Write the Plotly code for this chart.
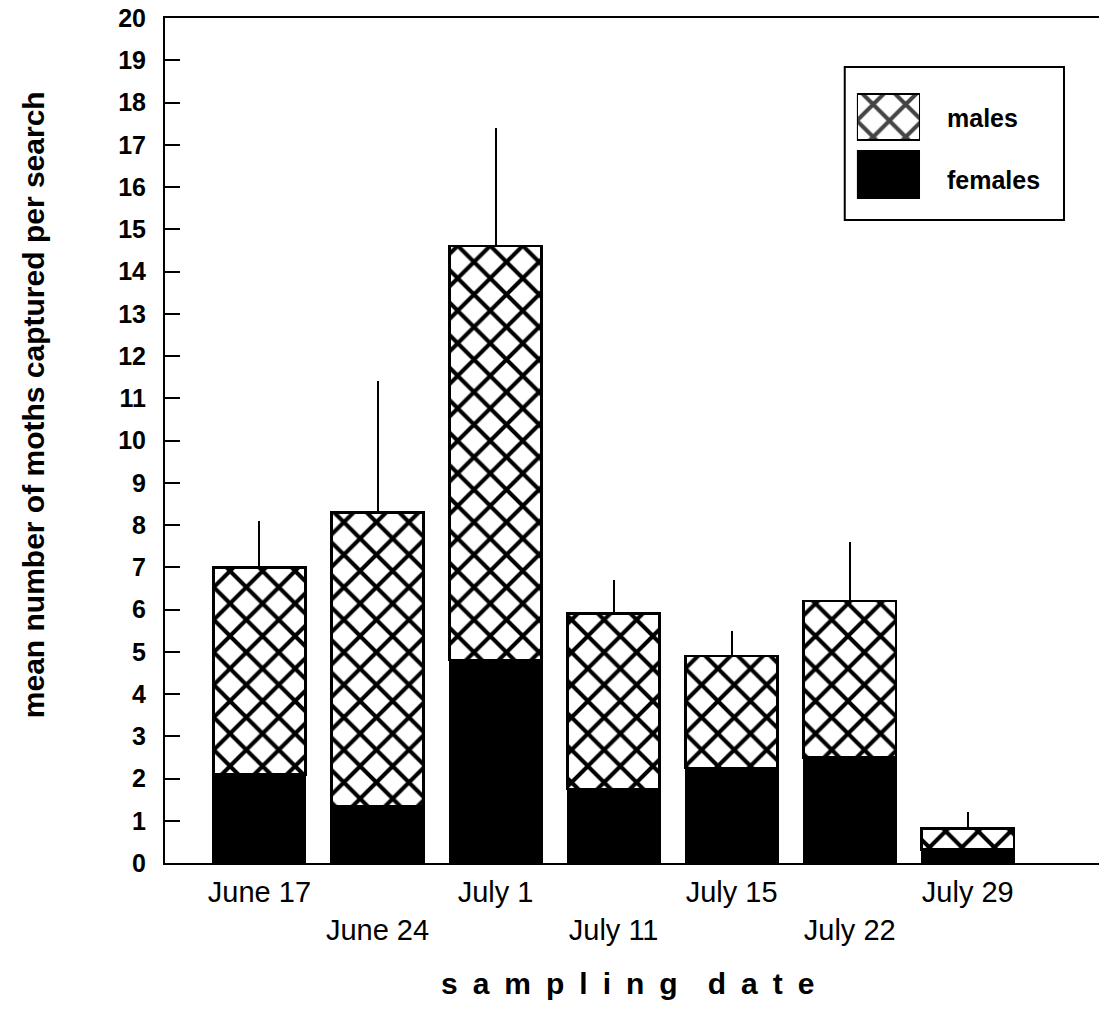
import plotly.graph_objects as go

# ---- data ----
dates = ["June 17", "June 24", "July 1", "July 11", "July 15", "July 22", "July 29"]
females = [2.1, 1.35, 4.8, 1.75, 2.25, 2.5, 0.32]
males = [4.9, 6.95, 9.8, 4.15, 2.65, 3.7, 0.5]
se_upper = [1.1, 3.1, 2.8, 0.8, 0.6, 1.4, 0.38]
y_ticks = list(range(0, 21))
legend_labels = ["females", "males"]

FONT = "Liberation Sans, Arial, Helvetica, sans-serif"
pos = list(range(len(dates)))
# alternate tick labels on two rows
tick_text = [d if i % 2 == 0 else "<br>" + d for i, d in enumerate(dates)]

hatch = dict(shape="x", fgcolor="black", bgcolor="white", fgopacity=1, size=23, solidity=0.32)

fig = go.Figure()
fig.add_trace(go.Bar(
    x=pos, y=females, name="females", width=0.78,
    marker=dict(color="black", line=dict(color="black", width=2)),
))
fig.add_trace(go.Bar(
    x=pos, y=males, name="males", width=0.78,
    marker=dict(color="white", pattern=hatch, line=dict(color="black", width=2.5)),
    error_y=dict(type="data", symmetric=False, array=se_upper,
                 arrayminus=[0] * len(se_upper), color="black",
                 thickness=2, width=0),
))

# legend swatches in an inset axis
fig.add_trace(go.Bar(
    y=legend_labels, x=[1, 1], orientation="h", width=0.8,
    xaxis="x2", yaxis="y2", showlegend=False, hoverinfo="skip",
    marker=dict(color=["black", "white"],
                pattern=dict(shape=["", "x"], fgcolor="black", bgcolor="white",
                             fgopacity=1, size=23, solidity=0.32),
                line=dict(color="black", width=2.5)),
))

fig.update_layout(
    width=1107, height=1009,
    margin=dict(l=157, r=15, t=10, b=154, autoexpand=False),
    paper_bgcolor="white", plot_bgcolor="white",
    barmode="stack", showlegend=False,
    font=dict(family=FONT, color="black"),
    xaxis=dict(
        range=[-0.8, 7.12], tickmode="array", tickvals=pos, ticktext=tick_text,
        ticks="", showgrid=False, zeroline=False, automargin=False,
        showline=True, linecolor="black", linewidth=2, mirror=True,
        tickfont=dict(size=29, family=FONT, color="black"),
        ticklabelstandoff=2, ticklabeloverflow="allow",
    ),
    yaxis=dict(
        range=[0, 20], tickmode="array", tickvals=y_ticks,
        ticks="inside", ticklen=15, tickwidth=1.5, tickcolor="black",
        showgrid=False, zeroline=False, automargin=False,
        showline=True, linecolor="black", linewidth=2, mirror=False,
        tickfont=dict(size=25, family=FONT, color="black", weight="bold"),
        ticklabelstandoff=12, ticklabeloverflow="allow",
    ),
    xaxis2=dict(domain=[0.740, 0.8075], range=[0, 1], anchor="y2", visible=False),
    yaxis2=dict(domain=[0.781, 0.917], range=[-0.5, 1.5], anchor="x2",
                type="category", visible=False),
    shapes=[dict(type="rect", xref="paper", yref="paper",
                 x0=0.727, x1=0.9615, y0=0.761, y1=0.942,
                 line=dict(color="black", width=2), fillcolor="rgba(0,0,0,0)")],
    annotations=[
        dict(text="males", xref="paper", yref="paper", x=0.834, y=0.882,
             xanchor="left", yanchor="middle", showarrow=False,
             font=dict(size=25, family=FONT, weight="bold")),
        dict(text="females", xref="paper", yref="paper", x=0.834, y=0.808,
             xanchor="left", yanchor="middle", showarrow=False,
             font=dict(size=25, family=FONT, weight="bold")),
        dict(text="mean number of moths captured per search", xref="paper", yref="paper",
             x=-0.141, y=0.542, textangle=-90, xanchor="center", yanchor="middle",
             showarrow=False, font=dict(size=30, family=FONT, weight="bold")),
        dict(text="\u2002".join("sampling") + "\u2002\u2002" + "\u2002".join("date"),
             xref="paper", yref="paper", x=0.495, y=-0.143,
             xanchor="center", yanchor="middle", showarrow=False,
             font=dict(size=30, family=FONT, weight="bold")),
    ],
)

fig.write_html("out.html")
